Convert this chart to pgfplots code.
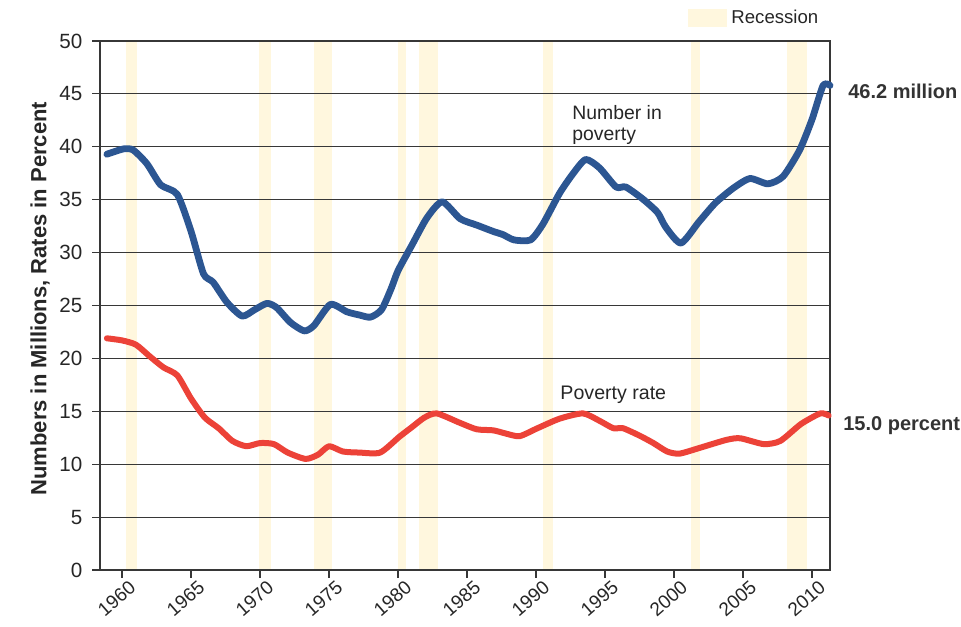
\documentclass[border=0pt]{standalone}
\usepackage{fontspec}
\setmainfont{Liberation Sans}
\usepackage{pgfplots}
\usepackage{pgfplotstable}
\pgfplotsset{compat=1.18}
\definecolor{povblue}{RGB}{44,86,146}
\definecolor{povred}{RGB}{236,66,56}
\definecolor{recess}{RGB}{255,247,222}
\definecolor{gridc}{RGB}{55,55,55}

\pgfplotstableread{
year value
1958.9 39.3
1960.1 39.8
1960.8 39.7
1961.8 38.4
1962.8 36.4
1964.0 35.5
1965.0 32.0
1965.9 28.0
1966.6 27.2
1967.6 25.3
1968.7 24.0
1969.6 24.6
1970.5 25.2
1971.2 24.8
1972.2 23.4
1973.2 22.6
1973.9 23.1
1975.1 25.1
1976.3 24.4
1977.2 24.1
1978.0 23.9
1978.8 24.6
1979.5 26.6
1980.0 28.3
1981.0 30.7
1982.1 33.3
1983.2 34.8
1984.5 33.2
1985.7 32.6
1986.9 32.0
1987.6 31.7
1988.4 31.2
1989.6 31.2
1990.5 32.7
1991.7 35.6
1992.7 37.5
1993.6 38.8
1994.6 38.0
1995.8 36.2
1996.5 36.2
1997.7 35.1
1998.8 33.8
1999.4 32.4
2000.5 30.9
2001.8 32.9
2003.0 34.7
2004.3 36.1
2005.5 37.0
2006.8 36.5
2007.9 37.2
2009.1 39.7
2010.0 42.6
2010.8 45.8
2011.3 45.8
}\numberdata

\pgfplotstableread{
year value
1958.9 21.9
1960.0 21.7
1961.0 21.3
1962.0 20.2
1963.0 19.15
1964.0 18.4
1965.0 16.2
1966.0 14.4
1967.0 13.4
1968.0 12.2
1969.0 11.7
1970.0 12.0
1971.0 11.9
1972.0 11.1
1973.3 10.5
1974.2 10.9
1975.0 11.7
1976.0 11.2
1977.2 11.1
1978.7 11.1
1980.1 12.6
1981.0 13.5
1981.9 14.4
1982.8 14.8
1984.5 13.9
1985.7 13.3
1986.9 13.2
1987.8 12.9
1988.8 12.65
1990.1 13.4
1991.7 14.3
1993.4 14.8
1994.6 14.1
1995.6 13.4
1996.3 13.4
1997.5 12.7
1998.5 12.0
1999.5 11.2
2000.4 11.0
2001.9 11.56
2003.8 12.3
2004.8 12.45
2006.5 11.9
2007.7 12.2
2009.2 13.8
2010.6 14.8
2011.2 14.6
}\ratedata

\begin{document}
\begin{tikzpicture}
\begin{axis}[
  set layers,
  scale only axis, width=365pt, height=264.5pt,
  at={(0,0)}, anchor=south west,
  xmin=1958.4, xmax=2011.3, ymin=0, ymax=50,
  xtick={1960,1965,...,2010}, ytick={0,5,...,50},
  tick align=outside, major tick length=3.8pt, tick pos=left,
  ymajorgrids, grid style={gridc, line width=0.6pt},
  axis line style={gridc, line width=0.6pt},
  tick style={gridc, line width=0.6pt},
  /pgf/number format/assume math mode=true,
  /pgf/number format/1000 sep={},
  xticklabel style={rotate=41, anchor=north east, inner sep=0pt, xshift=1.8pt, yshift=-2.5pt,
    font=\fontsize{9.5}{11}\selectfont, text=black!85},
  yticklabel style={font=\fontsize{10.3}{12}\selectfont, xshift=-1.5pt, text=black!85},
  ylabel={\bfseries Numbers in Millions, Rates in Percent},
  ylabel style={font=\fontsize{11}{13}\selectfont, at={(axis description cs:-0.082,0.513)}, anchor=center, text=black!85},
  clip=false,
  legend style={at={(axis description cs:0.99,1.02)}, anchor=south east, draw=none, fill=none,
    font=\fontsize{9.3}{11}\selectfont, inner sep=0pt, text=black!85},
  legend image code/.code={\fill[#1] (0cm,-0.16cm) rectangle (0.7cm,0.16cm);},
]
\addlegendimage{fill=recess, draw=none}
\addlegendentry{Recession}
\addplot[on layer=axis background, fill=recess, draw=none, forget plot] coordinates {(1960.25,50) (1961.1,50)} \closedcycle;
\addplot[on layer=axis background, fill=recess, draw=none, forget plot] coordinates {(1969.9,50) (1970.8,50)} \closedcycle;
\addplot[on layer=axis background, fill=recess, draw=none, forget plot] coordinates {(1973.9,50) (1975.2,50)} \closedcycle;
\addplot[on layer=axis background, fill=recess, draw=none, forget plot] coordinates {(1980.0,50) (1980.6,50)} \closedcycle;
\addplot[on layer=axis background, fill=recess, draw=none, forget plot] coordinates {(1981.5,50) (1982.9,50)} \closedcycle;
\addplot[on layer=axis background, fill=recess, draw=none, forget plot] coordinates {(1990.5,50) (1991.2,50)} \closedcycle;
\addplot[on layer=axis background, fill=recess, draw=none, forget plot] coordinates {(2001.2,50) (2001.9,50)} \closedcycle;
\addplot[on layer=axis background, fill=recess, draw=none, forget plot] coordinates {(2008.2,50) (2009.6,50)} \closedcycle;

\addplot[povblue, line width=3.4pt, smooth, tension=0.4, no marks, line cap=round, line join=round, forget plot] table[x=year, y=value] {\numberdata};
\addplot[povred, line width=3pt, smooth, tension=0.4, no marks, line cap=round, line join=round, forget plot] table[x=year, y=value] {\ratedata};

\node[anchor=north west, align=left, inner sep=0pt, font=\fontsize{9.7}{10.5}\selectfont, text=black!85] at (axis cs:1992.6,43.9) {Number in\\poverty};
\node[anchor=base west, inner sep=0pt, font=\fontsize{9.8}{11}\selectfont, text=black!85] at (axis cs:1991.74,16.07) {Poverty rate};
\node[anchor=base west, inner sep=0pt, font=\bfseries\fontsize{10}{12}\selectfont, text=black!80] at (axis cs:2012.6,44.6) {46.2 million};
\node[anchor=base west, inner sep=0pt, font=\bfseries\fontsize{10}{12}\selectfont, text=black!80] at (axis cs:2012.24,13.23) {15.0 percent};
\end{axis}
\pgfresetboundingbox
\path (-50pt,-28pt) rectangle (430.5pt,285pt);
\end{tikzpicture}
\end{document}
